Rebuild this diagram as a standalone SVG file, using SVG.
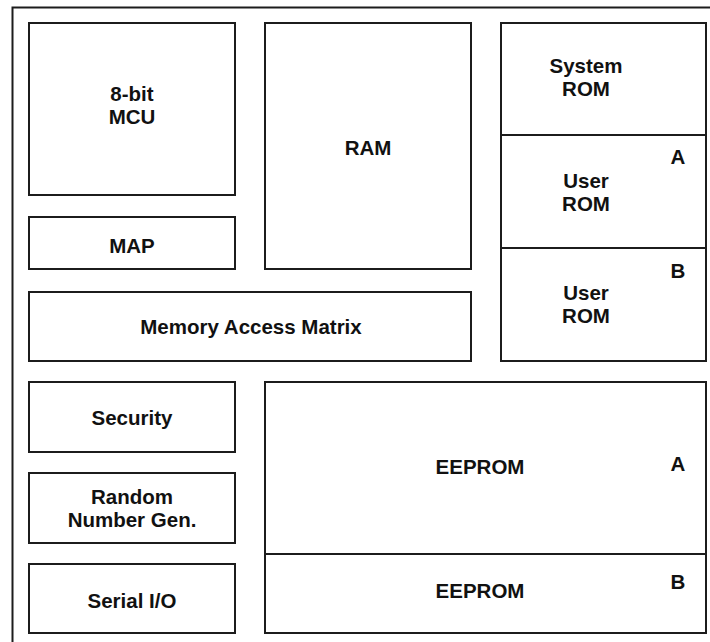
<svg xmlns="http://www.w3.org/2000/svg" width="710" height="642" viewBox="0 0 710 642">
  <style>
    .box { fill: #ffffff; stroke: #1c1c1c; stroke-width: 2; }
    .frame { fill: none; stroke: #1c1c1c; stroke-width: 2; }
    .lbl { font-family: "Liberation Sans", Arial, Helvetica, sans-serif; font-weight: bold; font-size: 20.5px; fill: #111111; text-anchor: middle; }
  </style>
  <rect width="710" height="642" fill="#ffffff"/>

  <!-- chip outline (runs off the right and bottom edges) -->
  <path class="frame" d="M12.5,642 V7.5 H712"/>

  <g id="mcu">
    <rect class="box" x="29" y="23" width="206" height="172"/>
    <text class="lbl" x="132" y="100.5">8-bit</text>
    <text class="lbl" x="132" y="124">MCU</text>
  </g>

  <g id="map">
    <rect class="box" x="29" y="217" width="206" height="52"/>
    <text class="lbl" x="132" y="252.5">MAP</text>
  </g>

  <g id="ram">
    <rect class="box" x="265" y="23" width="206" height="246"/>
    <text class="lbl" x="368" y="155">RAM</text>
  </g>

  <g id="system-rom">
    <rect class="box" x="501" y="23" width="205" height="112"/>
    <text class="lbl" x="586" y="72.5">System</text>
    <text class="lbl" x="586" y="96">ROM</text>
  </g>

  <g id="user-rom-a">
    <rect class="box" x="501" y="135" width="205" height="113"/>
    <text class="lbl" x="678" y="164">A</text>
    <text class="lbl" x="586" y="187.5">User</text>
    <text class="lbl" x="586" y="210.5">ROM</text>
  </g>

  <g id="user-rom-b">
    <rect class="box" x="501" y="248" width="205" height="113"/>
    <text class="lbl" x="678" y="277.5">B</text>
    <text class="lbl" x="586" y="299.5">User</text>
    <text class="lbl" x="586" y="323">ROM</text>
  </g>

  <g id="memory-access-matrix">
    <rect class="box" x="29" y="292" width="442" height="69"/>
    <text class="lbl" x="251" y="333.5">Memory Access Matrix</text>
  </g>

  <g id="security">
    <rect class="box" x="29" y="382" width="206" height="70"/>
    <text class="lbl" x="132" y="425">Security</text>
  </g>

  <g id="rng">
    <rect class="box" x="29" y="473" width="206" height="70"/>
    <text class="lbl" x="132" y="503.5">Random</text>
    <text class="lbl" x="132" y="526.5">Number Gen.</text>
  </g>

  <g id="serial-io">
    <rect class="box" x="29" y="564" width="206" height="69"/>
    <text class="lbl" x="132" y="607.5">Serial I/O</text>
  </g>

  <g id="eeprom-a">
    <rect class="box" x="265" y="382" width="441" height="172"/>
    <text class="lbl" x="480" y="474">EEPROM</text>
    <text class="lbl" x="678" y="470.5">A</text>
  </g>

  <g id="eeprom-b">
    <rect class="box" x="265" y="554" width="441" height="79"/>
    <text class="lbl" x="480" y="597.5">EEPROM</text>
    <text class="lbl" x="678" y="588.5">B</text>
  </g>

  <g id="connectors"/>
</svg>
